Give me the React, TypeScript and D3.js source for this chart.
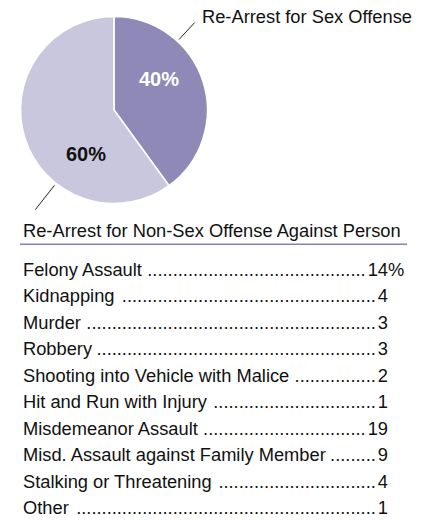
import React from "react";
import * as d3 from "d3";

const sliceNames = ["Re-Arrest for Sex Offense", "Re-Arrest for Non-Sex Offense Against Person"];
const sliceValues = [40, 60];
const sliceColors = ["#8e89b6", "#c9c7dd"];
const sliceTextColors = ["#ffffff", "#111111"];

const offenses = [
  "Felony Assault",
  "Kidnapping",
  "Murder",
  "Robbery",
  "Shooting into Vehicle with Malice",
  "Hit and Run with Injury",
  "Misdemeanor Assault",
  "Misd. Assault against Family Member",
  "Stalking or Threatening",
  "Other",
];
const offenseValues = [14, 4, 3, 3, 2, 1, 19, 9, 4, 1];

const W = 427;
const H = 520;
const FONT = "'Liberation Sans', Arial, Helvetica, sans-serif";
const FS = 18.3;

const cx = 114;
const cy = 110;
const R = 93.5;

// label placement (polar, degrees)
const pctPos = [
  { a: 55.4, r: 54.6 },
  { a: 212.5, r: 52.2 },
];
const leaders = [
  { a: 42.7, r0: 96, r1: 119 },
  { a: 218.3, r0: 96, r1: 127 },
];

let ctx: CanvasRenderingContext2D | null = null;
function measure(text: string, size = FS) {
  if (!ctx) ctx = document.createElement("canvas").getContext("2d");
  if (!ctx) return text.length * size * 0.5;
  ctx.font = `${size}px ${FONT}`;
  return ctx.measureText(text).width;
}

export default function App() {
  const pie = d3.pie<number>().sort(null).value((d) => d);
  const arcs = pie(sliceValues);
  const arc = d3.arc<d3.PieArcDatum<number>>().innerRadius(0).outerRadius(R);
  const rad = (deg: number) => (deg * Math.PI) / 180;

  const listX = 23;
  const numRight = 388;
  const y = d3
    .scaleLinear()
    .domain([0, offenses.length - 1])
    .range([275.5, 514]);

  const dotW = measure(".");

  return (
    <svg width={W} height={H} style={{ position: "absolute", left: 0, top: 0 }} fontFamily={FONT}>
      <rect width={W} height={H} fill="#ffffff" />
      <g transform={`translate(${cx},${cy})`}>
        {arcs.map((a, i) => (
          <path key={i} d={arc(a) || ""} fill={sliceColors[i]} stroke="#ffffff" strokeWidth={1.6} />
        ))}
        {arcs.map((a, i) => {
          const [px, py] = d3.pointRadial(rad(pctPos[i].a), pctPos[i].r);
          return (
            <text
              key={"p" + i}
              x={px}
              y={py}
              textAnchor="middle"
              dominantBaseline="central"
              fontWeight="bold"
              fontSize={20}
              fill={sliceTextColors[i]}
            >
              {a.data}%
            </text>
          );
        })}
        {leaders.map((l, i) => {
          const [x0, y0] = d3.pointRadial(rad(l.a), l.r0);
          const [x1, y1] = d3.pointRadial(rad(l.a), l.r1);
          return <line key={"l" + i} x1={x0} y1={y0} x2={x1} y2={y1} stroke="#222" strokeWidth={1} />;
        })}
      </g>
      <text x={202} y={23.3} fontSize={FS} fill="#111">
        {sliceNames[0]}
      </text>
      <text x={23} y={236.7} fontSize={FS} fill="#111">
        {sliceNames[1]}
      </text>
      <line x1={20} x2={407} y1={244.3} y2={244.3} stroke="#8781b9" strokeWidth={1.5} />

      {offenses.map((name, i) => {
        const yy = y(i);
        const num = String(offenseValues[i]);
        const numW = measure(num);
        const labelEnd = listX + measure(name);
        const dotsEnd = numRight - numW - 2;
        const count = Math.max(0, Math.floor((dotsEnd - labelEnd - 3) / dotW));
        return (
          <g key={name} fontSize={FS} fill="#111">
            <text x={listX} y={yy}>
              {name}
            </text>
            <text x={dotsEnd} y={yy} textAnchor="end">
              {".".repeat(count)}
            </text>
            <text x={numRight} y={yy} textAnchor="end">
              {num}
            </text>
            {i === 0 && (
              <text x={numRight} y={yy}>
                %
              </text>
            )}
          </g>
        );
      })}
    </svg>
  );
}
